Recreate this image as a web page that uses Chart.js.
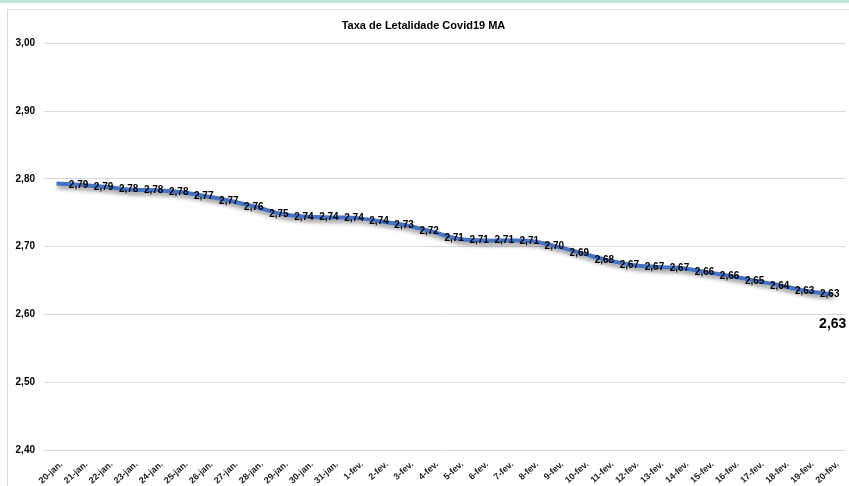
<!DOCTYPE html>
<html>
<head>
<meta charset="utf-8">
<script src="https://cdn.jsdelivr.net/npm/chart.js@4/dist/chart.umd.min.js"></script>
<style>
  html, body { margin: 0; padding: 0; background: #fff; }
  #wrap { width: 849px; height: 486px; }
</style>
</head>
<body>
<div id="wrap"><canvas id="c" width="849" height="486"></canvas></div>
<script>
const chartTitle = 'Taxa de Letalidade Covid19 MA';
const categories = [
  '20-jan.','21-jan.','22-jan.','23-jan.','24-jan.','25-jan.','26-jan.','27-jan.',
  '28-jan.','29-jan.','30-jan.','31-jan.','1-fev.','2-fev.','3-fev.','4-fev.',
  '5-fev.','6-fev.','7-fev.','8-fev.','9-fev.','10-fev.','11-fev.','12-fev.',
  '13-fev.','14-fev.','15-fev.','16-fev.','17-fev.','18-fev.','19-fev.','20-fev.'
];
const lethalityRate = [
  2.793, 2.791, 2.788, 2.784, 2.783, 2.780, 2.774, 2.767,
  2.758, 2.748, 2.744, 2.743, 2.742, 2.737, 2.731, 2.722,
  2.712, 2.709, 2.709, 2.708, 2.700, 2.690, 2.680, 2.673,
  2.670, 2.668, 2.662, 2.656, 2.649, 2.642, 2.634, 2.630
];
const yTicks = [2.40, 2.50, 2.60, 2.70, 2.80, 2.90, 3.00];

const fmt = v => Number(v).toFixed(2).replace('.', ',');
const FONT = "'Liberation Sans', Arial, sans-serif";

const frame = {
  id: 'frame',
  beforeDraw(chart) {
    const ctx = chart.ctx;
    ctx.save();
    ctx.fillStyle = '#ffffff';
    ctx.fillRect(0, 0, chart.width, chart.height);
    ctx.fillStyle = '#c5e5d6';
    ctx.fillRect(0, 0, chart.width, 3);
    ctx.strokeStyle = '#d9d9d9';
    ctx.lineWidth = 1;
    ctx.strokeRect(7.5, 9.5, chart.width + 20, chart.height + 20);
    ctx.restore();
  }
};

const lineShadow = {
  id: 'lineShadow',
  beforeDatasetDraw(chart) {
    const ctx = chart.ctx;
    ctx.save();
    ctx.shadowColor = 'rgba(0,0,0,0.45)';
    ctx.shadowBlur = 4;
    ctx.shadowOffsetX = 1;
    ctx.shadowOffsetY = 3;
  },
  afterDatasetDraw(chart) {
    chart.ctx.restore();
  }
};

const valueLabels = {
  id: 'valueLabels',
  afterDatasetsDraw(chart) {
    const ctx = chart.ctx;
    const meta = chart.getDatasetMeta(0);
    const data = chart.data.datasets[0].data;
    ctx.save();
    ctx.fillStyle = '#000';
    ctx.textAlign = 'center';
    ctx.textBaseline = 'middle';
    ctx.font = 'bold 10px ' + FONT;
    meta.data.forEach((pt, i) => {
      if (i === 0) return;
      ctx.fillText(fmt(data[i]), pt.x - 3, pt.y);
    });
    const last = meta.data[meta.data.length - 1];
    ctx.font = 'bold 14px ' + FONT;
    ctx.fillText(fmt(data[data.length - 1]), last.x, last.y + 30);
    ctx.restore();
  }
};

new Chart(document.getElementById('c'), {
  type: 'line',
  data: {
    labels: categories,
    datasets: [{
      data: lethalityRate,
      borderColor: '#4472c4',
      borderWidth: 4,
      pointRadius: 0,
      tension: 0.4,
      fill: false
    }]
  },
  options: {
    responsive: false,
    animation: false,
    devicePixelRatio: 1,
    layout: { padding: { left: 0, right: 2, top: 0, bottom: 0 } },
    plugins: {
      legend: { display: false },
      tooltip: { enabled: false },
      title: {
        display: true,
        text: chartTitle,
        color: '#000',
        font: { family: FONT, size: 11, weight: 'bold' },
        padding: { top: 19, bottom: 11 }
      }
    },
    scales: {
      x: {
        offset: true,
        grid: { display: false, drawTicks: false },
        border: { display: false },
        ticks: {
          autoSkip: false,
          minRotation: 42,
          maxRotation: 42,
          labelOffset: 5,
          padding: 9,
          color: '#222',
          font: { family: FONT, size: 9, weight: 'bold' }
        },
        afterFit(scale) { scale.height = 36; }
      },
      y: {
        min: yTicks[0],
        max: yTicks[yTicks.length - 1],
        afterBuildTicks(scale) { scale.ticks = yTicks.map(v => ({ value: v })); },
        grid: { color: '#d9d9d9', lineWidth: 1, drawTicks: false },
        border: { display: false },
        ticks: {
          padding: 9,
          color: '#000',
          font: { family: FONT, size: 10, weight: 'bold' },
          callback: v => fmt(v)
        },
        afterFit(scale) { scale.width = 44; }
      }
    }
  },
  plugins: [frame, lineShadow, valueLabels]
});
</script>
</body>
</html>
